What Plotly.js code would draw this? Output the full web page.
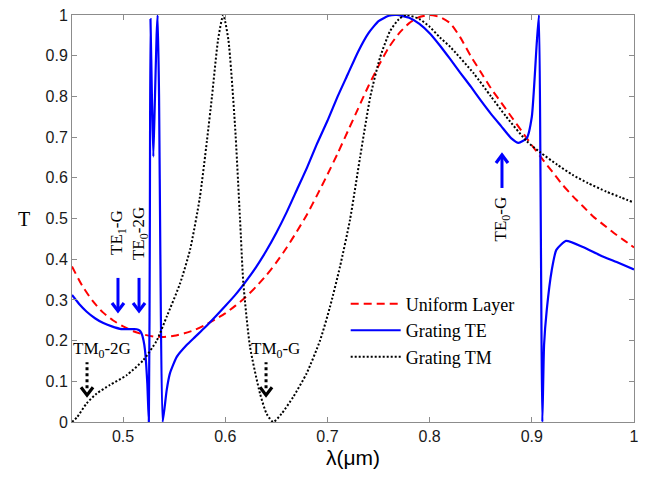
<!DOCTYPE html>
<html>
<head>
<meta charset="utf-8">
<script src="https://cdn.plot.ly/plotly-3.0.1.min.js"></script>
<style>
  html, body { margin: 0; padding: 0; background: #fff; }
  #chart { width: 646px; height: 477px; }
</style>
</head>
<body>
<div id="chart"></div>
<script>
// wavelength (um) and transmittance
const lambdaUniform = [0.45, 0.46, 0.47, 0.48, 0.49, 0.50, 0.51, 0.52, 0.53, 0.54, 0.55, 0.56, 0.57, 0.58, 0.59, 0.60,
  0.61, 0.62, 0.63, 0.64, 0.65, 0.66, 0.67, 0.68, 0.69, 0.70, 0.71, 0.72, 0.73, 0.74, 0.75, 0.76, 0.77, 0.78,
  0.79, 0.80, 0.81, 0.82, 0.83, 0.84, 0.85, 0.86, 0.87, 0.88, 0.89, 0.90, 0.91, 0.92, 0.93, 0.94, 0.95, 0.96,
  0.97, 0.98, 0.99, 1.00]
const tUniform = [0.382, 0.335, 0.298, 0.27, 0.25, 0.235, 0.223, 0.215, 0.21, 0.209, 0.212, 0.218, 0.226, 0.238, 0.252, 0.267,
  0.286, 0.307, 0.332, 0.36, 0.392, 0.428, 0.468, 0.51, 0.558, 0.608, 0.66, 0.715, 0.77, 0.825, 0.875, 0.92, 0.955, 0.98,
  0.995, 1.0, 0.995, 0.98, 0.945, 0.9, 0.86, 0.82, 0.785, 0.75, 0.715, 0.68, 0.647, 0.615, 0.583, 0.555, 0.53, 0.505,
  0.485, 0.465, 0.447, 0.429]

const lambdaTE = [0.45, 0.457, 0.4644, 0.4725, 0.4807, 0.489, 0.497, 0.505, 0.5133, 0.516, 0.518, 0.52, 0.5214, 0.5237,
  0.5252, 0.5262, 0.5268, 0.5282, 0.5296, 0.531, 0.5328, 0.5338, 0.5352, 0.5365, 0.5387, 0.5427, 0.5459, 0.5525,
  0.5622, 0.57, 0.58, 0.59, 0.60, 0.61, 0.62, 0.63, 0.64, 0.65, 0.66, 0.67, 0.68, 0.69, 0.70, 0.71, 0.72, 0.73,
  0.74, 0.75, 0.76, 0.768, 0.78, 0.79, 0.80, 0.81, 0.82, 0.83, 0.84, 0.85, 0.86, 0.87, 0.88, 0.887, 0.895, 0.9,
  0.9048, 0.907, 0.9085, 0.9095, 0.9103, 0.912, 0.9146, 0.9195, 0.924, 0.9335, 0.95, 0.9667, 0.983, 1.0]
const tTE = [0.312, 0.29, 0.271, 0.255, 0.243, 0.235, 0.229, 0.228, 0.228, 0.225, 0.218, 0.2, 0.177, 0.095,
  0.0, 0.5, 0.99, 0.8, 0.652, 0.78, 0.95, 1.0, 0.8, 0.4, 0.0, 0.079, 0.12, 0.16,
  0.189, 0.208, 0.232, 0.258, 0.285, 0.313, 0.345, 0.38, 0.42, 0.465, 0.515, 0.57, 0.625, 0.685, 0.74, 0.8, 0.855, 0.91,
  0.955, 0.985, 0.998, 1.0, 0.993, 0.978, 0.955, 0.925, 0.892, 0.858, 0.825, 0.79, 0.757, 0.727, 0.697, 0.686, 0.697, 0.75,
  0.93, 1.0, 0.6, 0.2, 0.0, 0.19, 0.275, 0.373, 0.423, 0.445, 0.43, 0.41, 0.393, 0.375]

const lambdaTM = [0.45, 0.455, 0.4644, 0.4742, 0.4872, 0.5035, 0.5198, 0.5329, 0.5427, 0.5557, 0.5655, 0.575, 0.582,
  0.587, 0.593, 0.598, 0.603, 0.6095, 0.6144, 0.6177, 0.6242, 0.634, 0.6405, 0.647, 0.655, 0.6666, 0.6797, 0.6927,
  0.7025, 0.7123, 0.722, 0.7319, 0.742, 0.7514, 0.7612, 0.77, 0.777, 0.79, 0.80, 0.81, 0.82, 0.843, 0.86, 0.875,
  0.895, 0.908, 0.925, 0.94, 0.955, 0.973, 0.987, 1.0]
const tTM = [0.0, 0.012, 0.046, 0.07, 0.091, 0.115, 0.152, 0.2, 0.259, 0.34, 0.423, 0.55, 0.69,
  0.8, 0.94, 1.0, 0.94, 0.73, 0.5, 0.341, 0.185, 0.07, 0.02, 0.0, 0.02, 0.062, 0.12, 0.2,
  0.283, 0.382, 0.496, 0.65, 0.8, 0.895, 0.96, 0.99, 1.0, 0.99, 0.971, 0.945, 0.922, 0.857, 0.8, 0.75,
  0.69, 0.663, 0.632, 0.607, 0.587, 0.566, 0.552, 0.539]

const seriesNames = ['Uniform Layer', 'Grating TE', 'Grating TM']

const serif = 'Liberation Serif, Times New Roman, serif'
const sans = 'Liberation Sans, Arial, sans-serif'

const data = [
  {
    x: lambdaUniform,
    y: tUniform,
    name: seriesNames[0],
    type: 'scatter',
    mode: 'lines',
    line: { color: '#ff0000', width: 2, dash: '8px,5px', shape: 'spline', smoothing: 0.6 }
  },
  {
    x: lambdaTE,
    y: tTE,
    name: seriesNames[1],
    type: 'scatter',
    mode: 'lines',
    line: { color: '#0000ff', width: 2.2, shape: 'spline', smoothing: 0.5 }
  },
  {
    x: lambdaTM,
    y: tTM,
    name: seriesNames[2],
    type: 'scatter',
    mode: 'lines',
    line: { color: '#000000', width: 2, dash: '2px,2px', shape: 'spline', smoothing: 0.6 }
  }
]

const labelFont = { family: serif, size: 17, color: '#000' }

// mode labels
const annotations = [
  { x: 0, y: 0.5, xref: 'paper', yref: 'paper', xshift: -56, text: 'T', showarrow: false, font: { family: serif, size: 20, color: '#000' } },
  { x: 0.495, y: 0.467, text: 'TE<sub>1</sub>-G', textangle: -90, showarrow: false, font: labelFont },
  { x: 0.5166, y: 0.462, text: 'TE<sub>0</sub>-2G', textangle: -90, showarrow: false, font: labelFont },
  { x: 0.8708, y: 0.5, text: 'TE<sub>0</sub>-G', textangle: -90, showarrow: false, font: labelFont },
  { x: 0.4794, y: 0.177, text: 'TM<sub>0</sub>-2G', showarrow: false, font: labelFont },
  { x: 0.6487, y: 0.177, text: 'TM<sub>0</sub>-G', showarrow: false, font: labelFont }
]

// arrows drawn as pixel-sized shapes anchored at their tips
function arrow (x, y, dir, color, dashed) {
  const s = dir // 1 = pointing down (shaft above tip), -1 = pointing up
  const out = []
  out.push({
    type: 'path', xref: 'x', yref: 'y', xsizemode: 'pixel', ysizemode: 'pixel', xanchor: x, yanchor: y,
    path: `M0,${s * (dashed ? 9 : 3)} L0,${s * 35}`,
    line: { color: color, width: 3, dash: dashed ? 'dot' : 'solid' }
  })
  out.push({
    type: 'path', xref: 'x', yref: 'y', xsizemode: 'pixel', ysizemode: 'pixel', xanchor: x, yanchor: y,
    path: `M-6,${s * 10} L0,${s * 2} L6,${s * 10}`,
    line: { color: color, width: 3.2, dash: 'solid' }
  })
  return out
}

const shapes = [].concat(
  arrow(0.495, 0.268, 1, '#0000ff', false),
  arrow(0.5156, 0.268, 1, '#0000ff', false),
  arrow(0.8708, 0.661, -1, '#0000ff', false),
  arrow(0.4647, 0.061, 1, '#000', true),
  arrow(0.6399, 0.061, 1, '#000', true)
)

const axisCommon = {
  showline: true,
  linecolor: '#8c8c8c',
  linewidth: 1,
  mirror: 'ticks',
  ticks: 'inside',
  ticklen: 5,
  tickcolor: '#8c8c8c',
  showgrid: false,
  zeroline: false,
  tickfont: { family: sans, size: 16, color: '#1a1a1a' }
}

const layout = {
  width: 646,
  height: 477,
  margin: { l: 72, r: 12, t: 15, b: 55 },
  paper_bgcolor: '#fff',
  plot_bgcolor: '#fff',
  showlegend: true,
  legend: {
    x: 0.487,
    y: 0.335,
    xanchor: 'left',
    yanchor: 'top',
    bgcolor: 'rgba(0,0,0,0)',
    font: { family: serif, size: 18, color: '#000' },
    itemwidth: 50
  },
  xaxis: Object.assign({}, axisCommon, {
    range: [0.45, 1.0],
    tick0: 0.5,
    dtick: 0.1,
    title: { text: 'λ(μm)', font: { family: sans, size: 21, color: '#000' }, standoff: 6 }
  }),
  yaxis: Object.assign({}, axisCommon, {
    range: [0, 1],
    dtick: 0.1
  }),
  annotations: annotations,
  shapes: shapes
}

Plotly.newPlot('chart', data, layout, { displayModeBar: false, staticPlot: true })
</script>
</body>
</html>
